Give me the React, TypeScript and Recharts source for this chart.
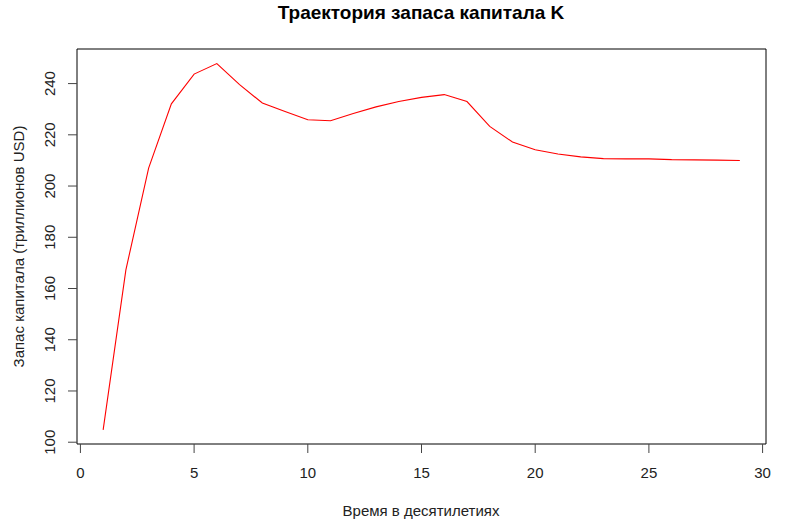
import { LineChart, Line, XAxis, YAxis, ReferenceArea } from 'recharts';

const decades = [1, 2, 3, 4, 5, 6, 7, 8, 9, 10, 11, 12, 13, 14, 15, 16, 17, 18, 19, 20, 21, 22, 23, 24, 25, 26, 27, 28, 29];
const capital = [
  104.8, 167.3, 207.0, 232.1, 243.7, 247.8, 239.6, 232.4, 229.1, 225.9, 225.5, 228.3, 230.9, 233.0, 234.6,
  235.7, 233.0, 223.3, 217.2, 214.2, 212.5, 211.4, 210.7, 210.6, 210.6, 210.3, 210.2, 210.1, 210.0,
];
const xTicks = [0, 5, 10, 15, 20, 25, 30];
const yTicks = [100, 120, 140, 160, 180, 200, 220, 240];

const X_DOMAIN: [number, number] = [-0.15, 30.15];
const Y_DOMAIN: [number, number] = [99.3, 253.5];

const FONT = '"Liberation Sans", Arial, sans-serif';
const TEXT = '#222';

const chartData = decades.map((t, i) => ({ t, k: capital[i] }));

const XTick = ({ x, y, payload }: any) => (
  <text x={x} y={y} dy={23} textAnchor="middle" fontSize={15} fontFamily={FONT} fill={TEXT}>
    {payload.value}
  </text>
);

const YTick = ({ x, y, payload }: any) => {
  const tx = x - 10.5;
  return (
    <text
      x={tx}
      y={y}
      textAnchor="middle"
      fontSize={15}
      fontFamily={FONT}
      fill={TEXT}
      transform={`rotate(-90, ${tx}, ${y})`}
    >
      {payload.value}
    </text>
  );
};

export default function App() {
  return (
    <div style={{ position: 'absolute', left: 0, top: 0, width: 805, height: 521, background: '#fff' }}>
      <LineChart width={805} height={521} data={chartData} margin={{ top: 49, right: 39, bottom: 0, left: 0 }}>
        <XAxis
          dataKey="t"
          type="number"
          domain={X_DOMAIN}
          ticks={xTicks}
          height={77}
          tickSize={9}
          tickMargin={2}
          axisLine={false}
          tickLine={{ stroke: '#444' }}
          tick={<XTick />}
        />
        <YAxis
          type="number"
          domain={Y_DOMAIN}
          ticks={yTicks}
          width={77}
          tickSize={9}
          tickMargin={2}
          axisLine={false}
          tickLine={{ stroke: '#444' }}
          tick={<YTick />}
        />
        <ReferenceArea
          x1={X_DOMAIN[0]}
          x2={X_DOMAIN[1]}
          y1={Y_DOMAIN[0]}
          y2={Y_DOMAIN[1]}
          fill="none"
          fillOpacity={0}
          stroke="#000"
          strokeWidth={1}
        />
        <Line
          dataKey="k"
          type="linear"
          stroke="#ff0000"
          strokeWidth={1.1}
          dot={false}
          activeDot={false}
          isAnimationActive={false}
        />
      </LineChart>
      <div
        style={{
          position: 'absolute',
          left: 0,
          top: 0,
          width: 805,
          height: 521,
          pointerEvents: 'none',
        }}
      >
        <svg width={805} height={521}>
          <text x={421} y={18.5} textAnchor="middle" fontSize={19} fontWeight="bold" fontFamily={FONT} fill="#000">
            Траектория запаса капитала K
          </text>
          <text x={421} y={516} textAnchor="middle" fontSize={15} fontFamily={FONT} fill={TEXT}>
            Время в десятилетиях
          </text>
          <text
            x={23.5}
            y={246.5}
            textAnchor="middle"
            fontSize={15}
            fontFamily={FONT}
            fill={TEXT}
            transform="rotate(-90, 23.5, 246.5)"
          >
            Запас капитала (триллионов USD)
          </text>
        </svg>
      </div>
    </div>
  );
}
